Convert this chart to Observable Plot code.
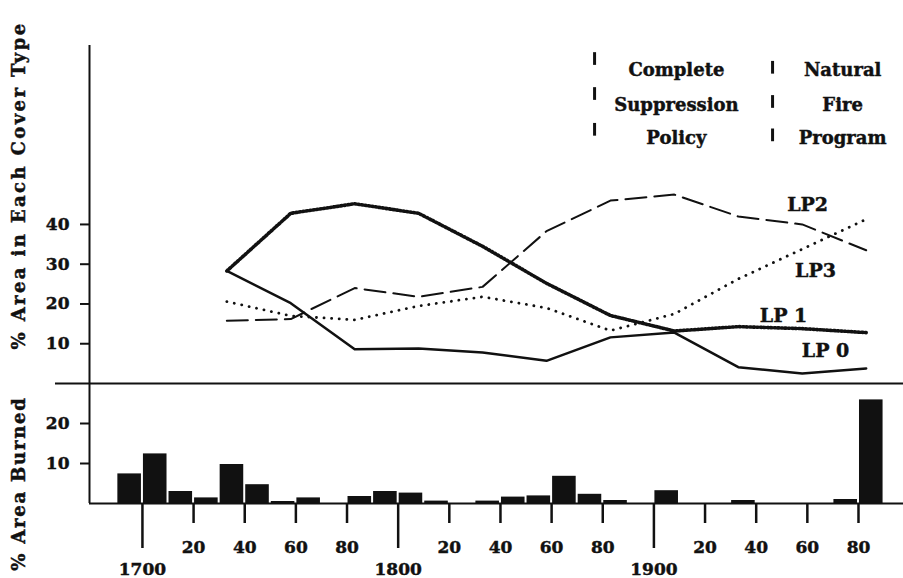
<!DOCTYPE html>
<html>
<head>
<meta charset="utf-8">
<script src="https://cdn.jsdelivr.net/npm/d3@7"></script>
<script src="https://cdn.jsdelivr.net/npm/@observablehq/plot@0.6"></script>
<style>
  body { margin: 0; background: #fff; }
  #chart { position: relative; width: 903px; height: 578px; overflow: hidden; background: #fff; }
  #chart svg { position: absolute; left: 0; }
</style>
</head>
<body>
<div id="chart"></div>
<script>
// ---------------- DATA ----------------
const years = [1733, 1758, 1783, 1808, 1833, 1858, 1883, 1908, 1933, 1958, 1983];
const lp0 = [28.3, 20.2, 8.6, 8.8, 7.8, 5.7, 11.6, 12.8, 4.1, 2.5, 3.8];
const lp1 = [28.3, 42.8, 45.2, 42.8, 34.5, 25.2, 17.1, 13.2, 14.3, 13.8, 12.8];
const lp2 = [15.8, 16.2, 24.0, 21.8, 24.3, 38.3, 46.0, 47.5, 42.0, 40.0, 33.5];
const lp3 = [20.6, 17.0, 16.0, 19.5, 21.8, 19.0, 13.3, 17.5, 26.3, 33.8, 41.3];
const seriesNames = ["LP 0", "LP 1", "LP2", "LP3"];

const decades = [1690, 1700, 1710, 1720, 1730, 1740, 1750, 1760, 1770, 1780,
                 1790, 1800, 1810, 1820, 1830, 1840, 1850, 1860, 1870, 1880,
                 1890, 1900, 1910, 1920, 1930, 1940, 1950, 1960, 1970, 1980];
const burned  = [7.4, 12.4, 3.0, 1.4, 9.75, 4.7, 0.5, 1.4, 0, 1.75,
                 3.0, 2.6, 0.6, 0, 0.6, 1.6, 1.9, 6.8, 2.3, 0.75,
                 0, 3.2, 0, 0, 0.75, 0, 0, 0, 1.0, 25.9];

const coverTicks = [10, 20, 30, 40];
const burnedTicks = [10, 20];
const centuryTicks = [1700, 1800, 1900];
const centuryLabels = ["1700", "1800", "1900"];
const decadeTicks = [1720, 1740, 1760, 1780, 1820, 1840, 1860, 1880, 1920, 1940, 1960, 1980];
const decadeLabels = ["20", "40", "60", "80", "20", "40", "60", "80", "20", "40", "60", "80"];

const policyWords = ["Complete", "Suppression", "Policy"];
const programWords = ["Natural", "Fire", "Program"];
const coverTitle = "% Area in Each Cover Type";
const burnedTitle = "% Area Burned";

// ---------------- LAYOUT ----------------
const FONT = "'DejaVu Serif', serif";
const INK = "#111";
const xDomain = [1679.3, 1997.6];
const sepX1 = 1666;              // separator line starts left of the axis
const labelX = [1967.1, 1950.7, 1960.1, 1963.2];
const labelY = [8.3, 17.1, 45.0, 28.2];
const wordRows = [78.7, 69.9, 61.6];
const policyX = 1908.8, programX = 1973.8;
const barX1 = 1876.8, barX2 = 1946.4;
const bars1 = [81.6, 72.8, 63.8];
const bars2 = [79.4, 70.8, 62.4];

const baseStyle = { fontFamily: FONT, fontWeight: "bold", background: "transparent", overflow: "visible", color: INK };

const topPlot = Plot.plot({
  width: 903, height: 390,
  marginLeft: 89, marginRight: 0, marginTop: 45, marginBottom: 7,
  x: { domain: xDomain, axis: null },
  y: { domain: [0, 85], axis: null },
  style: baseStyle,
  marks: [
    Plot.ruleY([0], { x1: sepX1, x2: xDomain[1], stroke: INK, strokeWidth: 2 }),
    Plot.ruleX([xDomain[0]], { y1: 0, y2: 85, stroke: INK, strokeWidth: 2 }),
    Plot.axisY(coverTicks, { anchor: "left", tickSize: 9, tickPadding: 11, fontSize: 17, fontWeight: "bold", strokeWidth: 2, stroke: INK, fill: INK, label: null }),
    Plot.line(years, { x: years, y: lp0, stroke: INK, strokeWidth: 2.5 }),
    Plot.line(years, { x: years, y: lp1, stroke: INK, strokeWidth: 3.6, strokeDasharray: "1.5,2" }),
    Plot.line(years, { x: years, y: lp2, stroke: INK, strokeWidth: 2, strokeDasharray: "21,8" }),
    Plot.line(years, { x: years, y: lp3, stroke: INK, strokeWidth: 2.8, strokeDasharray: "0.1,7.5", strokeLinecap: "round" }),
    Plot.text(seriesNames, { x: labelX, y: labelY, text: d => d, fontSize: 19, fontWeight: "bold", fill: INK }),
    Plot.text(policyWords, { x: policyX, y: wordRows, text: d => d, fontSize: 18, fontWeight: "bold", fill: INK }),
    Plot.text(programWords, { x: programX, y: wordRows, text: d => d, fontSize: 18, fontWeight: "bold", fill: INK }),
    Plot.ruleX(bars1, { x: barX1, y1: d => d - 1.6, y2: d => d + 1.6, stroke: INK, strokeWidth: 3 }),
    Plot.ruleX(bars2, { x: barX2, y1: d => d - 1.6, y2: d => d + 1.6, stroke: INK, strokeWidth: 3 }),
    Plot.text([coverTitle], { frameAnchor: "left", textAnchor: "middle", rotate: -90, dx: -70, dy: -29, text: d => d, fontSize: 18, fontWeight: "bold", fill: INK })
  ]
});

const bottomPlot = Plot.plot({
  width: 903, height: 195,
  marginLeft: 89, marginRight: 0, marginTop: 0, marginBottom: 75,
  x: { domain: xDomain, axis: null },
  y: { domain: [0, 30], axis: null },
  style: baseStyle,
  marks: [
    Plot.rectY(decades, { x1: decades, x2: decades.map(d => d + 10), y: burned, fill: INK, insetLeft: 1, insetRight: 1 }),
    Plot.ruleY([0], { stroke: INK, strokeWidth: 2 }),
    Plot.ruleX([xDomain[0]], { y1: 0, y2: 30, stroke: INK, strokeWidth: 2 }),
    Plot.axisY(burnedTicks, { anchor: "left", tickSize: 9, tickPadding: 11, fontSize: 17, fontWeight: "bold", strokeWidth: 2, stroke: INK, fill: INK, label: null }),
    Plot.axisX(decadeTicks, { anchor: "bottom", tickSize: 20, tickPadding: 17, fontSize: 17, fontWeight: "bold", strokeWidth: 2.5, stroke: INK, fill: INK, label: null,
      tickFormat: d => decadeLabels[decadeTicks.indexOf(d)] }),
    Plot.axisX(centuryTicks, { anchor: "bottom", tickSize: 45, tickPadding: 14, fontSize: 17, fontWeight: "bold", strokeWidth: 2.5, stroke: INK, fill: INK, label: null,
      tickFormat: d => centuryLabels[centuryTicks.indexOf(d)] }),
    Plot.text([burnedTitle], { frameAnchor: "left", textAnchor: "middle", rotate: -90, dx: -70, dy: 40, text: d => d, fontSize: 18, fontWeight: "bold", fill: INK })
  ]
});

const chart = document.getElementById("chart");
topPlot.style.top = "0px";
bottomPlot.style.top = "383px";
chart.appendChild(topPlot);
chart.appendChild(bottomPlot);

// heavier lettering, and wider axis titles, to match the original typeface
for (const svg of [topPlot, bottomPlot]) {
  d3.select(svg).selectAll("text")
    .style("stroke", INK).style("stroke-width", "0.45px");
  d3.select(svg).selectAll("text")
    .filter(function () { return this.textContent === coverTitle; })
    .style("letter-spacing", "2.4px");
  d3.select(svg).selectAll("text")
    .filter(function () { return this.textContent === burnedTitle; })
    .style("letter-spacing", "1.8px");
}
</script>
</body>
</html>
